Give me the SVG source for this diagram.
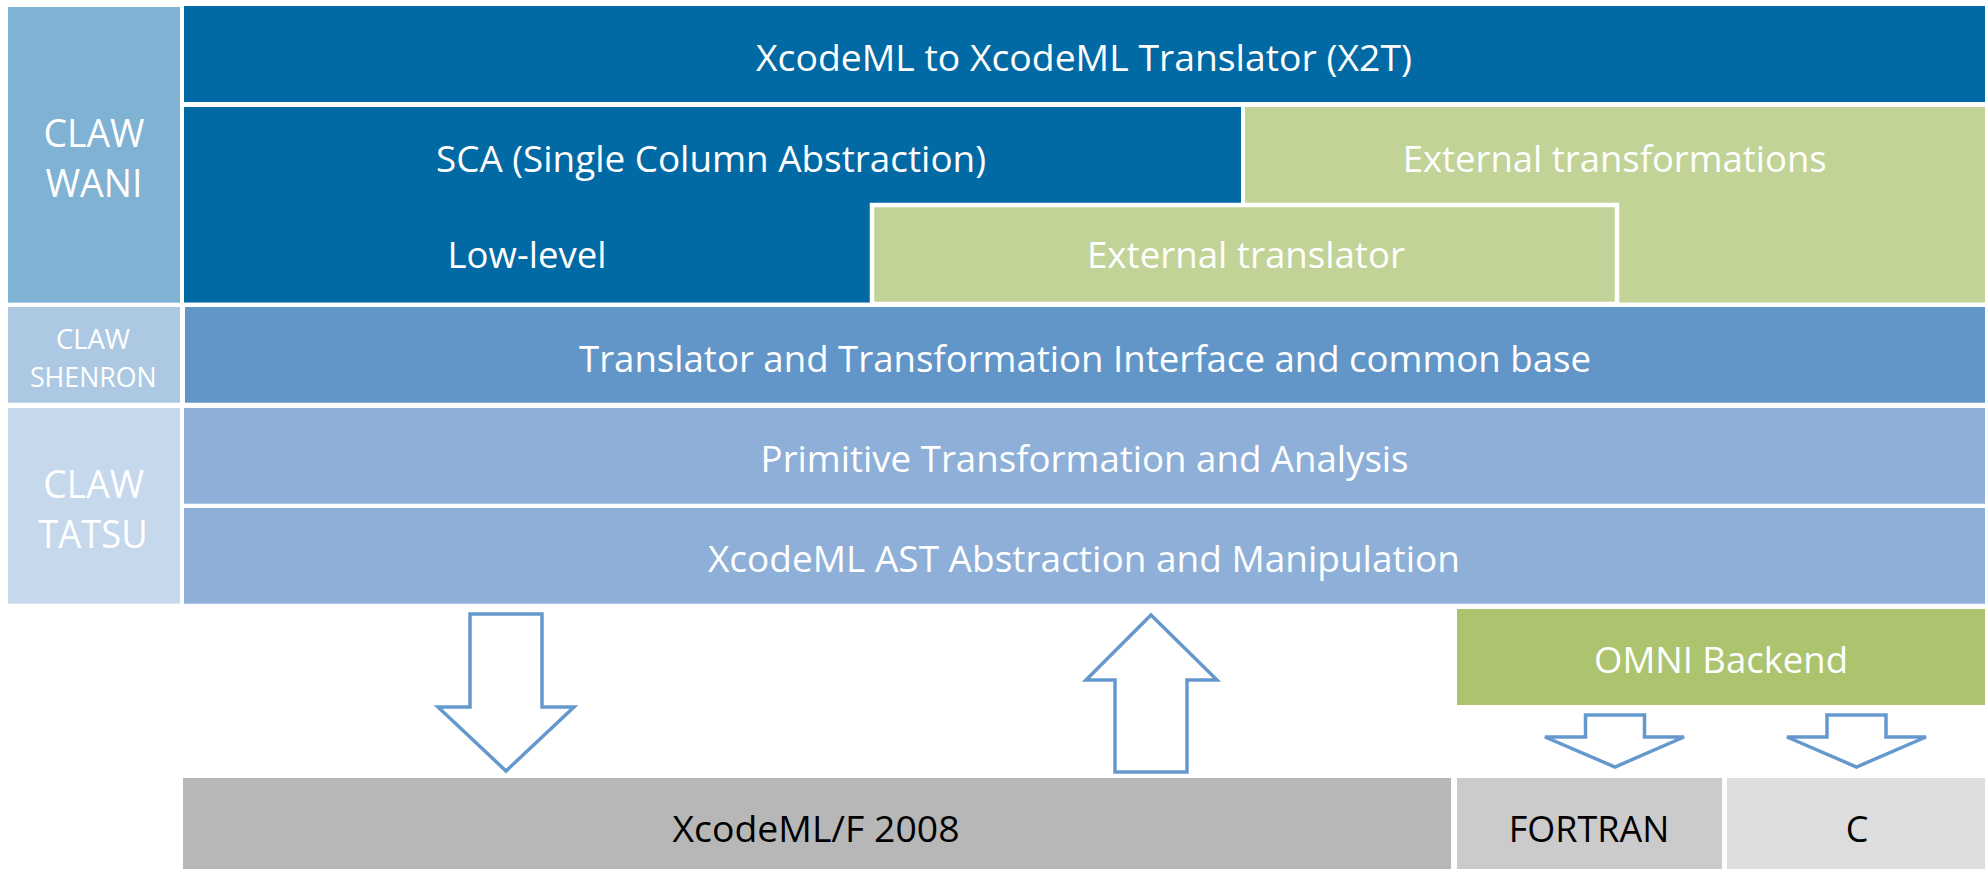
<svg xmlns="http://www.w3.org/2000/svg" width="1988" height="869" viewBox="0 0 1988 869">
<style>
text{font-family:"Open Sans","Noto Sans","Liberation Sans",sans-serif;text-anchor:middle}
.w{fill:#ffffff}
.k{fill:#000000}
.m{font-size:36px}
.big{font-size:38px}
.sm{font-size:28px}
.arrow{fill:#ffffff;stroke:#6599CE;stroke-width:3.5;stroke-linejoin:miter}
</style>
<rect width="1988" height="869" fill="#ffffff"/>
<g id="claw-wani">
<rect x="8" y="7" width="172" height="295.7" fill="#80B2D3"/>
<text class="w big" x="94" y="146.7" textLength="101" lengthAdjust="spacingAndGlyphs">CLAW</text>
<text class="w big" x="94" y="197.3" textLength="97" lengthAdjust="spacingAndGlyphs">WANI</text>
</g>
<g id="claw-shenron">
<rect x="8" y="307" width="172" height="95.7" fill="#ADC8E3"/>
<text class="w sm" x="93" y="349.3" textLength="74" lengthAdjust="spacingAndGlyphs">CLAW</text>
<text class="w sm" x="93.3" y="387.3" textLength="126.7" lengthAdjust="spacingAndGlyphs">SHENRON</text>
</g>
<g id="claw-tatsu">
<rect x="8" y="408" width="172" height="195.7" fill="#C5D8EC"/>
<text class="w big" x="93.7" y="498.3" textLength="100.7" lengthAdjust="spacingAndGlyphs">CLAW</text>
<text class="w big" x="93" y="548.3" textLength="109.4" lengthAdjust="spacingAndGlyphs">TATSU</text>
</g>
<g id="x2t">
<rect x="184" y="6" width="1801" height="96" fill="#0169A4"/>
<text class="w m" x="1084" y="70.7" textLength="656" lengthAdjust="spacingAndGlyphs">XcodeML to XcodeML Translator (X2T)</text>
</g>
<g id="sca">
<path d="M184 107 H1241 V205 H872 V302.7 H184 Z" fill="#0169A4"/>
<text class="w m" x="711" y="171.7" textLength="550" lengthAdjust="spacingAndGlyphs">SCA (Single Column Abstraction)</text>
<text class="w m" x="527" y="268.3" textLength="159" lengthAdjust="spacingAndGlyphs">Low-level</text>
</g>
<g id="external-transformations">
<rect x="1245" y="107" width="740" height="195.7" fill="#C1D397"/>
<text class="w m" x="1614.7" y="171.7" textLength="424" lengthAdjust="spacingAndGlyphs">External transformations</text>
</g>
<g id="external-translator">
<rect x="872" y="205" width="745" height="99" fill="#C1D397" stroke="#ffffff" stroke-width="4.5"/>
<text class="w m" x="1246" y="268.3" textLength="318" lengthAdjust="spacingAndGlyphs">External translator</text>
</g>
<rect x="184" y="302.7" width="1801" height="4.3" fill="#ffffff"/>
<g id="interface">
<rect x="185" y="307" width="1800" height="95.7" fill="#6296C8"/>
<text class="w m" x="1085" y="371.7" textLength="1012" lengthAdjust="spacingAndGlyphs">Translator and Transformation Interface and common base</text>
</g>
<g id="primitive">
<rect x="184" y="408" width="1801" height="95.7" fill="#8EB0D8"/>
<text class="w m" x="1084.6" y="472.3" textLength="648" lengthAdjust="spacingAndGlyphs">Primitive Transformation and Analysis</text>
</g>
<g id="ast">
<rect x="184" y="508" width="1801" height="95.7" fill="#8EB0D8"/>
<text class="w m" x="1084" y="571.7" textLength="752" lengthAdjust="spacingAndGlyphs">XcodeML AST Abstraction and Manipulation</text>
</g>
<g id="omni">
<rect x="1457" y="609" width="528" height="96" fill="#ACC46E"/>
<text class="w m" x="1721" y="672.7" textLength="254" lengthAdjust="spacingAndGlyphs">OMNI Backend</text>
</g>
<g id="xcodeml-f">
<rect x="183" y="778" width="1268" height="91" fill="#B7B7B7"/>
<text class="k m" x="816" y="841.7" textLength="287" lengthAdjust="spacingAndGlyphs">XcodeML/F 2008</text>
</g>
<g id="fortran">
<rect x="1457" y="778" width="265" height="91" fill="#CBCBCB"/>
<text class="k m" x="1589" y="841.7" textLength="160.5" lengthAdjust="spacingAndGlyphs">FORTRAN</text>
</g>
<g id="c">
<rect x="1727" y="778" width="258" height="91" fill="#DDDDDD"/>
<text class="k m" x="1857" y="841.7">C</text>
</g>
<g id="connectors">
<polygon class="arrow" points="470,614 542,614 542,707 574,707 506,771 438,707 470,707"/>
<polygon class="arrow" points="1151,615 1217,680 1187,680 1187,772 1115,772 1115,680 1086,680"/>
<polygon class="arrow" points="1585.5,715 1644.5,715 1644.5,737 1684,737 1615,767 1545,737 1585.5,737"/>
<polygon class="arrow" points="1827,715 1886,715 1886,737 1926,737 1856.5,767 1787,737 1827,737"/>
</g>
</svg>
